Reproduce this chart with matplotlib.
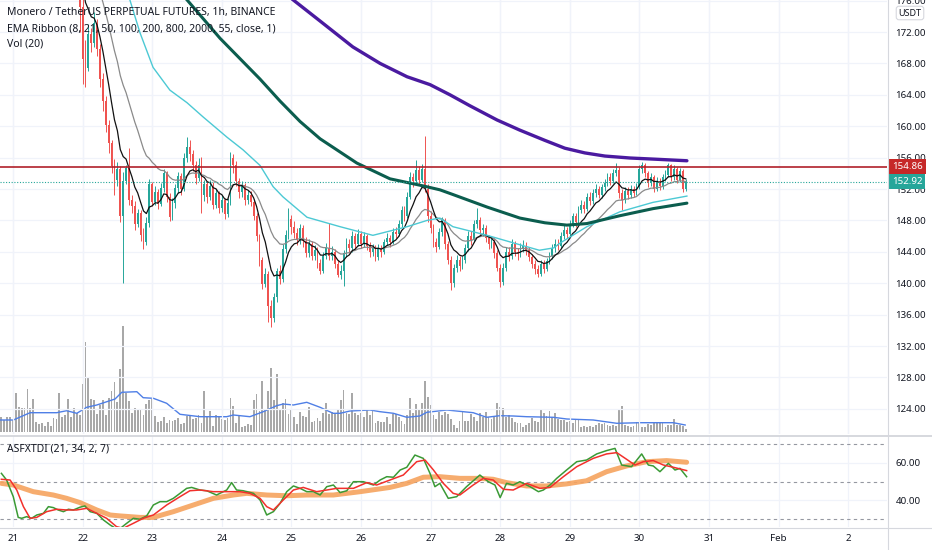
import numpy as np
import pandas as pd
import matplotlib
matplotlib.use("Agg")
import matplotlib.pyplot as plt
from matplotlib.lines import Line2D

plt.rcParams['font.family'] = ['Noto Sans', 'DejaVu Sans']

# hourly candles, index 0 = Jan 20 20:00, index 4 = Jan 21 00:00
first_open = 197.0
close = [
    196.0, 194.5, 192.6, 191.1, 189.8, 188.2, 187.0, 187.6, 186.4, 186.9,
    185.7, 186.3, 187.2, 186.1, 185.4, 186.0, 185.1, 184.2, 184.8, 183.6,
    183.1, 183.9, 182.8, 182.2, 182.9, 181.6, 180.4, 175.2, 168.6, 167.4,
    171.8, 170.6, 173.2, 169.8, 166.0, 163.2, 160.1, 157.8, 154.9, 153.2,
    154.6, 148.6, 153.0, 154.7, 150.6, 149.8, 147.6, 148.9, 146.2, 145.3,
    147.7, 152.6, 150.4, 151.6, 150.1, 152.1, 154.0, 151.0, 148.4, 150.2,
    152.1, 153.6, 152.0, 156.0, 157.4, 156.5, 155.0, 153.4, 155.1, 151.2,
    152.6, 151.0, 152.4, 150.0, 151.5, 149.6, 150.6, 148.8, 150.2, 156.0,
    155.1, 153.0, 151.6, 152.5, 150.6, 151.3, 150.4, 148.5, 146.0, 143.0,
    139.9, 141.2, 137.1, 135.6, 138.2, 141.5, 140.6, 144.4, 146.1, 148.2,
    147.1, 146.4, 145.5, 147.0, 145.4, 143.9, 145.0, 143.5, 144.2, 142.6,
    141.5, 143.5, 144.5, 143.5, 144.0, 142.5, 141.0, 141.6, 143.8, 145.0,
    144.5, 146.0, 145.0, 146.3, 145.0, 146.0, 144.8, 144.0, 144.6, 143.3,
    144.5, 144.0, 145.2, 145.8, 145.3, 146.5, 146.3, 147.5, 149.3, 148.5,
    151.0, 153.5, 153.0, 154.4, 153.2, 154.6, 152.0, 148.5, 147.0, 145.2,
    144.6, 146.5, 148.0, 145.0, 143.0, 140.0, 142.0, 143.0, 142.2, 143.0,
    144.5, 146.0, 145.5, 147.5, 148.0, 146.8, 147.0, 145.8, 145.0, 145.3,
    143.8, 142.0, 140.2, 142.0, 144.0, 143.5, 145.0, 144.0, 143.8, 144.5,
    144.8, 144.2, 143.3, 142.5, 141.8, 141.2, 142.5, 141.8, 142.8, 143.5,
    144.5, 145.0, 144.8, 146.0, 146.8, 146.3, 147.5, 148.5, 147.8, 149.3,
    150.0, 149.5, 151.0, 150.5, 151.5, 152.0, 151.2, 152.2, 152.8, 153.5,
    153.0, 154.0, 154.4, 151.5, 150.6, 151.8, 151.2, 152.0, 151.5, 152.3,
    154.5, 155.0, 154.0, 152.8, 153.5, 152.0, 153.0, 152.4, 153.5, 153.8,
    155.0, 153.5, 154.6, 153.2, 154.3, 152.0, 152.92]
high = [
    197.5, 196.4, 194.9, 193.0, 191.6, 190.3, 188.8, 188.3, 188.0, 187.5,
    187.3, 187.0, 187.9, 187.6, 186.7, 186.8, 186.4, 185.6, 185.5, 185.1,
    184.2, 184.6, 184.3, 183.4, 183.6, 183.3, 182.0, 181.0, 176.5, 171.0,
    173.0, 172.5, 174.5, 173.6, 170.5, 166.8, 163.9, 160.8, 158.3, 155.8,
    155.5, 154.9, 154.2, 155.0, 157.2, 151.2, 150.5, 149.5, 149.3, 147.0,
    148.4, 153.3, 152.9, 152.4, 152.0, 152.8, 154.5, 154.3, 151.5, 150.8,
    152.6, 154.2, 154.0, 156.6, 158.6, 158.2, 157.0, 155.6, 155.9, 156.1,
    153.2, 153.0, 153.1, 152.9, 152.0, 151.8, 151.2, 150.9, 150.8, 156.7,
    156.5, 155.6, 153.4, 153.0, 152.8, 151.9, 151.8, 150.7, 148.9, 146.3,
    143.4, 142.0, 141.6, 137.8, 138.8, 142.0, 142.3, 145.0, 146.8, 149.6,
    148.7, 147.9, 147.0, 147.6, 147.4, 145.9, 145.6, 145.4, 144.9, 144.6,
    143.1, 144.0, 145.1, 147.7, 144.8, 144.4, 142.9, 142.3, 144.2, 145.7,
    145.6, 146.6, 146.4, 146.9, 146.6, 146.5, 146.3, 145.2, 145.0, 144.9,
    145.0, 144.9, 145.6, 146.4, 146.2, 147.0, 147.2, 148.0, 149.9, 149.8,
    151.6, 154.2, 154.0, 155.7, 154.9, 155.2, 158.8, 152.6, 149.2, 147.5,
    145.8, 147.0, 148.4, 148.3, 145.4, 143.5, 142.5, 143.6, 143.5, 143.5,
    145.0, 146.6, 146.6, 148.0, 149.6, 148.4, 147.6, 147.4, 146.2, 146.0,
    145.7, 144.2, 142.4, 142.6, 144.6, 144.6, 145.6, 145.4, 144.5, 145.1,
    145.5, 145.2, 144.6, 143.7, 142.9, 142.3, 143.0, 142.9, 143.2, 144.0,
    145.0, 145.6, 145.6, 146.5, 147.4, 147.2, 148.0, 149.0, 148.9, 149.8,
    150.6, 150.5, 151.5, 151.6, 152.0, 152.6, 152.4, 152.7, 153.3, 154.0,
    154.0, 154.5, 155.3, 154.8, 152.0, 152.2, 152.3, 152.5, 152.4, 152.8,
    155.0, 155.4, 155.3, 154.3, 154.0, 153.8, 153.5, 153.4, 153.9, 154.4,
    155.3, 155.2, 155.0, 154.8, 154.7, 154.5, 153.3]
low = [
    195.2, 193.8, 192.0, 190.4, 189.1, 187.5, 186.2, 186.4, 185.7, 185.9,
    185.0, 185.2, 185.9, 185.5, 184.8, 184.9, 184.5, 183.6, 183.7, 183.0,
    182.4, 182.7, 182.2, 181.4, 181.7, 181.0, 179.7, 172.0, 165.4, 165.0,
    167.0, 169.5, 170.1, 169.0, 165.0, 162.0, 159.3, 156.6, 154.0, 151.2,
    152.4, 147.8, 140.0, 152.6, 150.0, 148.9, 146.8, 147.1, 145.4, 144.3,
    144.9, 147.2, 149.8, 150.0, 149.5, 149.8, 151.6, 150.4, 147.9, 148.0,
    149.6, 151.5, 151.3, 151.7, 155.4, 155.6, 154.3, 152.7, 153.0, 149.0,
    150.5, 150.2, 150.6, 149.4, 149.6, 148.9, 149.1, 148.2, 148.4, 150.0,
    154.0, 152.4, 150.9, 151.0, 150.0, 150.1, 149.8, 148.0, 145.4, 142.2,
    139.3, 139.5, 135.0, 134.4, 135.0, 137.6, 139.9, 140.2, 143.8, 145.6,
    146.3, 145.8, 144.9, 145.0, 144.6, 143.3, 143.4, 142.9, 143.0, 142.0,
    141.2, 141.3, 143.1, 143.0, 142.9, 141.9, 140.8, 140.6, 139.6, 143.3,
    143.8, 144.0, 144.4, 144.7, 144.5, 144.6, 144.2, 143.3, 143.5, 142.8,
    142.9, 143.4, 143.7, 144.9, 144.6, 145.0, 145.7, 146.0, 147.2, 147.9,
    148.3, 150.7, 152.2, 152.6, 152.5, 152.9, 151.6, 147.8, 146.4, 144.6,
    144.0, 144.3, 146.0, 144.4, 142.4, 139.1, 139.5, 141.4, 141.6, 141.8,
    142.6, 144.1, 144.9, 145.2, 147.0, 146.2, 146.0, 145.2, 144.4, 144.5,
    143.2, 141.5, 139.5, 139.8, 141.6, 142.8, 143.1, 143.5, 143.0, 143.4,
    144.0, 143.6, 142.8, 142.0, 141.2, 140.8, 140.9, 141.3, 141.5, 142.4,
    143.1, 144.0, 144.2, 144.5, 145.6, 145.8, 146.0, 147.2, 147.2, 147.5,
    148.9, 148.9, 149.2, 150.0, 150.1, 151.0, 150.8, 150.9, 151.8, 152.4,
    152.5, 152.8, 153.6, 150.9, 149.3, 150.2, 150.7, 150.9, 151.0, 151.2,
    152.0, 154.0, 153.5, 152.3, 152.4, 151.6, 151.7, 151.9, 152.0, 153.0,
    153.5, 153.0, 153.2, 152.8, 152.9, 151.6, 151.8]
volume = [
    14.7, 12, 15.3, 15.3, 12,
    38.7, 24.7, 23.7, 23.7, 42.7, 23.7, 32.7, 10.3, 8, 8.7,
    6, 10.3, 6, 13.7, 12.7, 38.7, 15.3, 17, 33.3, 15.3,
    23.7, 19.3, 17, 48, 89.7, 53.7, 33.3, 32, 18, 27,
    32, 17, 33.7, 41.3, 49.7, 30.3, 62.7, 106, 39.3, 31.3,
    19.3, 23.7, 22, 22.7, 17, 27.7, 32, 32.7, 16, 10.3,
    11, 15.3, 8.7, 12, 11.3, 12, 13.7, 8, 8.7, 16.3,
    16, 12.7, 13.7, 17, 9.3, 41, 15.3, 21.3, 6, 17,
    15.3, 12.7, 12, 13.7, 34, 26, 9.3, 16, 5.3, 6,
    8, 7, 32, 38, 21.3, 51.3, 22, 41.3, 63.7, 32,
    57.7, 22.7, 28.7, 33, 18, 22, 14.7, 7.7, 20, 16,
    15.3, 24.7, 10.3, 11.3, 13.7, 11.3, 18.7, 29.3, 17.7, 20.3,
    17.7, 22.7, 32,
    42, 18.7, 18, 38.7, 19.3, 17, 18.7, 15.3, 22, 17,
    21.3, 8.7, 11.3, 10.3, 10, 14.7, 8, 17.7, 18,
    15.3, 11.3, 8, 17, 33.7, 18.7, 28, 22, 28.7, 51,
    34.7, 27, 17, 12.7, 20.3, 17, 20.3, 18, 12.7, 7,
    3.7, 11.3, 19.7, 11, 11.3, 18, 15.3, 11.3, 19.3, 15.3,
    20.3, 15.3, 12.7, 16, 29.3, 24.7, 24.3, 14.7, 17.3, 13.7,
    10.3, 9.3, 8.7, 4.7, 7, 8.7, 13.7, 11.3, 10.3, 23,
    19.3, 16.3, 21.3, 15.3, 19.3, 12.7, 12, 12, 10.3, 11.3,
    9.3, 12, 12.7, 4.7, 6, 5.3, 6, 4.7, 7, 8.7,
    8, 8.7, 6.7, 6, 6.7, 6, 22, 26, 7, 6,
    4.7, 6, 10.3, 10.3, 4.7, 4.7, 8, 6.7, 10.3, 10.3,
    10.3, 8.7, 4.7, 6.7, 7, 13, 7, 6.7, 6, 2.7]

# volume MA(20)
vol_ma_idx = [-0.5, 4.1, 9.9, 19.1, 22.5, 26.0, 29.4, 32.9, 39.2, 41.5,
              46.7, 48.9, 52.4, 57.0, 61.6, 68.5, 77.7, 80.0, 85.7, 90.3,
              94.9, 97.2, 100.7, 105.3, 109.9, 114.4, 116.8, 120.2, 127.1, 130.6,
              135.2, 139.8, 144.3, 146.7, 153.6, 159.3, 162.7, 167.3, 171.9, 176.5,
              181.1, 190.3, 195.0, 204.1, 212.2, 220.2, 231.7, 235.8]
vol_ma_val = [12, 12, 19.3, 19.3, 21.3, 18.7, 24.7, 27, 33, 39.7,
              40.3, 34.3, 33.7, 28.7, 17.7, 15.3, 15.3, 17, 15.3, 20.3,
              26.3, 28, 27, 29.7, 24.7, 18.7, 18.7, 21, 22, 20.3,
              18.7, 14.7, 16, 19.7, 22, 20.3, 19.3, 14.7, 16.3, 16,
              15.3, 14.7, 13, 12, 8.7, 9.3, 9.3, 7]

# long EMAs of the ribbon (their history starts before the window)
ema50_idx = [42, 44.3, 47.8, 52.3, 58.1, 64.0, 69.5, 77.8, 83.3, 89.2, 93.7, 97.1, 105.4,
             116.8, 128.1, 139.9, 146.8, 151.2, 155.7, 167.5, 178.8, 185.5, 190.5,
             192.6, 201.9, 213.3, 224.7, 236.4]
ema50_val = [177.5, 176.1, 171.9, 167.5, 164.6, 163.0, 161.2, 158.6, 157.0, 155.0, 152.3,
             151.0, 148.4, 147.2, 146.1, 147.2, 148.0, 148.3, 147.2, 146.1, 144.9, 144.2,
             144.5, 145.1, 147.2, 149.1, 150.3, 151.1]
ema100_idx = [60, 64.0, 75.4, 82.3, 89.2, 96.1, 103.0, 109.9, 122.6, 134.0, 145.4, 151.2,
              155.7, 167.5, 178.8, 187.4, 195.0, 201.9, 213.3, 224.7, 236.4]
ema100_val = [177.8, 176.1, 171.2, 168.6, 166.0, 163.2, 160.6, 158.4, 155.3, 153.3, 152.4,
              151.9, 151.3, 149.7, 148.3, 147.7, 147.4, 147.6, 148.6, 149.5, 150.2]
ema200_idx = [96.1, 100.6, 109.9, 121.2, 130.6, 139.9, 147.8, 154.7, 161.6, 170.9, 178.8,
              187.4, 194.3, 201.2, 208.1, 216.8, 225.4, 236.4]
ema200_val = [177.4, 176.1, 173.4, 170.1, 168.0, 166.3, 165.3, 164.0, 162.6, 160.8, 159.5,
              158.2, 157.2, 156.6, 156.2, 155.95, 155.8, 155.6]

# TDI lines
rsi_idx = [0, 1.8, 4.1, 5.8, 7.0, 8.7, 10.4, 12.2, 14.5, 16.2,
           17.9, 19.6, 21.4, 23.1, 24.8, 27.1, 28.8, 30.6, 32.9, 35.2,
           37.5, 40.3, 43.2, 45.5, 47.8, 50.1, 52.4, 54.7, 57.0, 59.3,
           61.6, 63.9, 65.6, 68.5, 70.8, 74.2, 77.7, 79.4, 81.1, 83.4,
           86.9, 89.2, 91.5, 93.8, 96.1, 98.4, 100.7, 103.0, 105.3, 107.6,
           109.9, 112.2, 114.5, 116.8, 119.1, 121.4, 124.8, 128.3, 130.6, 132.9,
           135.2, 137.5, 139.8, 142.6, 145.5, 147.8, 149.5, 151.2, 154.1, 157.0,
           160.4, 165.0, 167.9, 170.2, 172.0, 174.2, 176.5, 178.8, 182.3, 185.2,
           186.9, 189.2, 191.5, 194.9, 198.4, 201.8, 205.3, 208.7, 211.6, 213.9,
           217.3, 220.8, 223.1, 224.8, 227.1, 230.0, 232.3, 234.0, 236.3]
rsi_val = [54.4, 50.8, 41.8, 30.6, 30.1, 31.0, 30.1, 31.9, 32.8, 36.4,
           35.9, 34.6, 33.7, 35.0, 34.6, 36.1, 36.8, 33.7, 32.8, 29.2,
           26.5, 23.8, 27.4, 30.1, 29.6, 31.4, 37.3, 39.1, 39.1, 40.9,
           43.6, 46.3, 46.8, 45.4, 45.0, 42.7, 45.4, 49.4, 45.4, 45.0,
           43.6, 40.0, 31.9, 33.7, 38.2, 44.5, 47.6, 46.3, 44.5, 44.5,
           42.7, 47.2, 48.1, 44.0, 45.0, 49.9, 49.9, 48.1, 50.8, 52.6,
           52.3, 56.2, 57.7, 64.3, 62.5, 54.4, 47.2, 49.0, 40.9, 41.8,
           47.2, 53.5, 49.9, 48.1, 41.3, 49.0, 48.1, 49.9, 47.2, 44.5,
           45.4, 48.1, 51.7, 56.2, 60.7, 61.6, 64.9, 66.7, 67.9, 58.9,
           58.0, 64.9, 58.9, 58.4, 55.3, 59.8, 56.2, 57.1, 52.6]
sig_idx = [0, 3.0, 5.3, 7.6, 9.9, 12.2, 15.6, 19.1, 22.5, 25.9,
           29.4, 32.9, 36.3, 39.7, 42.0, 45.5, 48.9, 52.4, 57.0, 61.6,
           65.0, 68.5, 73.1, 77.7, 82.3, 85.7, 89.2, 91.5, 93.8, 97.2,
           100.7, 104.1, 108.7, 112.2, 115.6, 121.4, 126.0, 129.4, 134.0, 138.6,
           143.2, 146.1, 149.0, 152.4, 155.8, 158.1, 162.7, 166.2, 169.6, 173.1,
           176.5, 181.1, 185.7, 189.2, 193.8, 198.4, 204.1, 208.7, 212.2, 215.6,
           218.5, 221.4, 224.8, 228.3, 231.7, 236.3]
sig_val = [51.2, 50.8, 45.4, 36.4, 30.1, 30.6, 33.7, 35.0, 34.6, 34.6,
           35.5, 32.8, 30.1, 25.6, 24.7, 27.4, 30.1, 31.9, 37.3, 41.8,
           45.0, 45.4, 44.5, 44.5, 44.5, 43.6, 40.9, 36.4, 34.6, 40.0,
           45.4, 46.8, 44.5, 45.4, 46.3, 46.3, 49.4, 48.1, 50.8, 53.5,
           60.7, 61.6, 56.2, 49.0, 43.6, 42.7, 48.1, 51.7, 50.8, 45.8,
           45.4, 49.0, 46.3, 46.8, 52.6, 58.0, 62.5, 64.9, 65.6, 62.0,
           58.9, 60.7, 61.3, 58.9, 57.7, 55.9]
base_idx = [0, 4.1, 11.0, 17.9, 22.5, 27.1, 32.9, 37.5, 40.9, 47.8,
            52.4, 59.3, 66.2, 73.1, 80.0, 84.6, 91.5, 98.4, 105.3, 114.5,
            123.7, 134.0, 139.8, 145.5, 151.2, 158.1, 165.0, 169.6, 174.2, 181.1,
            188.0, 194.9, 201.8, 208.7, 215.6, 222.5, 229.4, 236.3]
base_val = [49.0, 48.1, 44.5, 42.7, 40.9, 38.6, 34.6, 31.9, 31.4, 30.6,
            30.6, 33.7, 37.3, 40.9, 42.7, 43.6, 42.7, 42.3, 42.7, 42.7,
            44.5, 46.8, 49.0, 52.3, 52.6, 51.7, 51.7, 51.2, 49.4, 47.6,
            47.6, 48.7, 50.4, 55.3, 58.4, 60.7, 61.3, 60.4]

day_labels = ['21', '22', '23', '24', '25', '26', '27', '28', '29', '30', '31', 'Feb', '2']
price_ticks = [124, 128, 132, 136, 140, 144, 148, 152, 156, 160, 164, 168, 172, 176]
resistance = 154.86
last_price = 152.92

UP, DN = '#26a69a', '#ef5350'
GRID = '#f0f3fa'
TXT = '#131722'
SEP = '#d6d8de'

n = len(close)
idx = np.arange(n)
c = np.array(close)
o = np.r_[first_open, c[:-1]]
hi = np.array(high[:n])
lo = np.array(low[:n])
vol = np.array(volume[:n])
col = np.where(c >= o, UP, DN)
day_idx = [4 + 24 * k for k in range(len(day_labels))]

W, H = 932, 550
fig = plt.figure(figsize=(W / 100, H / 100), dpi=100)
fig.patch.set_facecolor('white')
xlim = (-0.48, 305.4)

# volume axes underneath the price axes
rect_main = [0, 116 / H, 887 / W, 434 / H]
ax_v = fig.add_axes(rect_main)
ax_v.bar(idx, vol, width=0.62, color='#a8a8a8', linewidth=0)
ax_v.plot(vol_ma_idx, vol_ma_val, color='#4f7fe6', lw=1.0)
ax_v.set_xlim(*xlim)
ax_v.set_ylim(-2, 432)
ax_v.axis('off')

ax = fig.add_axes(rect_main)
ax.patch.set_alpha(0)
ax.set_xlim(*xlim)
ax.set_ylim(120.79, 176.08)
for t in day_idx:
    ax.axvline(t, color=GRID, lw=0.9, zorder=0)
    ax_v.axvline(t, color=GRID, lw=0.9, zorder=0)
for p in price_ticks:
    ax.axhline(p, color=GRID, lw=0.9, zorder=0)

ax.vlines(idx, lo, hi, colors=col, lw=0.7, zorder=2)
ax.bar(idx, np.maximum(np.abs(c - o), 0.08), bottom=np.minimum(o, c), width=0.62,
       color=col, linewidth=0, zorder=3)

ema8 = pd.Series(c).ewm(span=8, adjust=False).mean()
ema21 = pd.Series(c).ewm(span=21, adjust=False).mean()
ax.plot(idx, ema21, color='#8a8a8a', lw=0.9, zorder=4)
ax.plot(idx, ema8, color='#111111', lw=0.9, zorder=4)
ax.plot(ema50_idx, ema50_val, color='#4cc9d4', lw=1.0, zorder=4)
ax.plot(ema100_idx, ema100_val, color='#0b5d4e', lw=2.2, zorder=4, solid_capstyle='round')
ax.plot(ema200_idx, ema200_val, color='#4a1aa0', lw=2.4, zorder=4, solid_capstyle='round')

ax.axhline(resistance, color='#b0202a', lw=1.2, zorder=5)
ax.axhline(last_price, color=UP, lw=0.8, ls=(0, (1, 1.5)), zorder=5)

ax.yaxis.tick_right()
ax.set_yticks(price_ticks)
ax.set_yticklabels([f'{p:.2f}' for p in price_ticks])
ax.tick_params(axis='y', length=0, pad=6, labelsize=7, labelcolor=TXT)
ax.set_xticks([])
for s in ax.spines.values():
    s.set_visible(False)

for val, fc in ((resistance, '#c62828'), (last_price, UP)):
    ax.annotate(f'{val:.2f}', xy=(1, val), xycoords=('axes fraction', 'data'),
                xytext=(3.5, 0), textcoords='offset points', ha='left', va='center',
                fontsize=7, color='white', annotation_clip=False, zorder=10,
                bbox=dict(boxstyle='square,pad=0.3', fc=fc, ec='none'))

fig.text(910 / W, 1 - 13 / H, 'USDT', ha='center', va='center', fontsize=6.5, color=TXT,
         bbox=dict(boxstyle='round,pad=0.25,rounding_size=0.3', fc='white', ec='#d6d8de', lw=0.8))

fig.text(7 / W, 1 - 13 / H, 'Monero / TetherUS PERPETUAL FUTURES, 1h, BINANCE',
         fontsize=7.5, fontweight='bold', color=TXT, va='center')
fig.text(7 / W, 1 - 29 / H, 'EMA Ribbon (8, 21, 50, 100, 200, 800, 2000, 55, close, 1)',
         fontsize=7.5, color=TXT, va='center')
fig.text(7 / W, 1 - 44 / H, 'Vol (20)', fontsize=7.5, color=TXT, va='center')

# TDI pane
ax_o = fig.add_axes([0, 23 / H, 887 / W, 91 / H])
ax_o.set_xlim(*xlim)
ax_o.set_ylim(25.41, 74.59)
for t in day_idx:
    ax_o.axvline(t, color=GRID, lw=0.9, zorder=0)
for p in (40, 60):
    ax_o.axhline(p, color=GRID, lw=0.9, zorder=0)
for p in (30, 50, 70):
    ax_o.axhline(p, color='#9598a1', lw=0.8, ls=(0, (3, 3)), zorder=1)
ax_o.plot(base_idx, base_val, color='#f6a35e', lw=3.6, alpha=0.9, zorder=2,
          solid_capstyle='round')
ax_o.plot(rsi_idx, rsi_val, color='#3a9a35', lw=1.1, zorder=3)
ax_o.plot(sig_idx, sig_val, color='#f2302c', lw=1.1, zorder=4)
ax_o.yaxis.tick_right()
ax_o.set_yticks([40, 60])
ax_o.set_yticklabels(['40.00', '60.00'])
ax_o.tick_params(axis='y', length=0, pad=6, labelsize=7, labelcolor=TXT)
ax_o.set_xticks(day_idx)
ax_o.set_xticklabels(day_labels)
ax_o.tick_params(axis='x', length=0, pad=5, labelsize=7, labelcolor=TXT)
for s in ax_o.spines.values():
    s.set_visible(False)
fig.text(7 / W, 1 - 449 / H, 'ASFXTDI (21, 34, 2, 7)', fontsize=7.5, color=TXT, va='center')

# pane separators
fig.add_artist(Line2D([887.5 / W] * 2, [0, 1], transform=fig.transFigure, color=SEP, lw=0.8))
fig.add_artist(Line2D([0, 1], [1 - 436 / H] * 2, transform=fig.transFigure, color=SEP, lw=1.4))
fig.add_artist(Line2D([0, 1], [1 - 528 / H] * 2, transform=fig.transFigure, color=SEP, lw=0.8))

fig.savefig('out.png', dpi=100, facecolor='white')
